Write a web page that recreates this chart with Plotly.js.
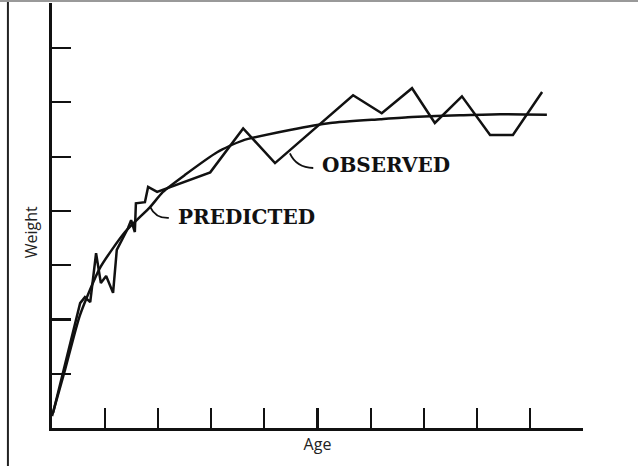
<!DOCTYPE html>
<html>
<head>
<meta charset="utf-8">
<script src="https://cdn.plot.ly/plotly-3.0.1.min.js"></script>
<style>html,body{margin:0;padding:0;background:#fff;}#chart{width:638px;height:466px;}</style>
</head>
<body>
<div id="chart"></div>
<script>
// Age (x) and Weight (y), in axis units (no numeric labels on the original)
const predictedAge    = [0, 0.245, 0.527, 0.904, 1.375, 1.846, 2.09, 2.50, 3.11, 3.60, 4.48, 5.24, 6.18, 6.78, 7.68, 8.44, 9.32];
const predictedWeight = [0.22, 1.07, 2.08, 2.95, 3.61, 4.07, 4.35, 4.66, 5.08, 5.30, 5.49, 5.62, 5.69, 5.73, 5.76, 5.78, 5.77];

const observedAge    = [0.02, 0.53, 0.62, 0.72, 0.83, 0.92, 1.02, 1.11, 1.15, 1.22, 1.43, 1.49, 1.56, 1.58, 1.75, 1.81, 1.98, 2.98, 3.60, 4.20, 5.67, 6.21, 6.78, 7.21, 7.72, 8.25, 8.68, 9.23];
const observedWeight = [0.28, 2.30, 2.41, 2.32, 3.22, 2.67, 2.80, 2.56, 2.49, 3.28, 3.68, 3.83, 3.61, 4.14, 4.16, 4.44, 4.35, 4.71, 5.52, 4.88, 6.13, 5.80, 6.26, 5.62, 6.11, 5.40, 5.40, 6.19];

const xTicks = [1, 2, 3, 4, 5, 6, 7, 8, 9, 10];
const yTicks = [1, 2, 3, 4, 5, 6, 7];

const labelFont = {family: 'DejaVu Serif, Liberation Serif, serif', size: 20, color: '#111', weight: 'bold'};
const axisTitleFont = {family: 'Open Sans, DejaVu Sans, sans-serif', size: 16, color: '#222'};

const traces = [
  {x: predictedAge, y: predictedWeight, mode: 'lines', name: 'PREDICTED',
   line: {color: '#111', width: 2.5, shape: 'spline', smoothing: 0.6}, hoverinfo: 'skip'},
  {x: observedAge, y: observedWeight, mode: 'lines', name: 'OBSERVED',
   line: {color: '#111', width: 2.5, shape: 'linear'}, hoverinfo: 'skip'}
];

const layout = {
  width: 638, height: 466,
  margin: {l: 52, r: 55, t: 3, b: 38, pad: 0},
  paper_bgcolor: '#fff', plot_bgcolor: '#fff',
  showlegend: false,
  xaxis: {
    range: [0, 10], tickvals: xTicks, showticklabels: false,
    ticks: 'inside', ticklen: 20, tickwidth: 2.2, tickcolor: '#111',
    showline: true, linecolor: '#111', linewidth: 2.6,
    showgrid: false, zeroline: false, fixedrange: true,
    title: {text: 'Age', font: axisTitleFont, standoff: 9}
  },
  yaxis: {
    range: [0, 7.83], tickvals: yTicks, showticklabels: false,
    ticks: 'inside', ticklen: 19, tickwidth: 2.2, tickcolor: '#111',
    showline: true, linecolor: '#111', linewidth: 2.6,
    showgrid: false, zeroline: false, fixedrange: true
  },
  annotations: [
    {x: -0.04, y: 0.46, xref: 'paper', yref: 'paper', text: 'Weight', showarrow: false,
     textangle: -90, xanchor: 'center', yanchor: 'middle', font: axisTitleFont},
    {x: 5.05, y: 4.85, xref: 'x', yref: 'y', text: 'OBSERVED', showarrow: false,
     xanchor: 'left', yanchor: 'middle', font: labelFont},
    {x: 2.34, y: 3.89, xref: 'x', yref: 'y', text: 'PREDICTED', showarrow: false,
     xanchor: 'left', yanchor: 'middle', font: labelFont}
  ],
  shapes: [
    {type: 'path', xref: 'x', yref: 'y', path: 'M 4.48,5.06 Q 4.60,4.80 4.92,4.79',
     line: {color: '#111', width: 1.8}},
    {type: 'path', xref: 'x', yref: 'y', path: 'M 1.85,4.07 Q 1.95,3.86 2.20,3.87',
     line: {color: '#111', width: 1.8}},
    {type: 'line', xref: 'paper', yref: 'paper', x0: -0.083, x1: -0.083, y0: -0.1, y1: 1.02,
     line: {color: '#222', width: 2}},
    {type: 'line', xref: 'paper', yref: 'paper', x0: -0.2, x1: 1.2, y0: 1.005, y1: 1.005,
     line: {color: '#999', width: 2}}
  ]
};

Plotly.newPlot('chart', traces, layout, {displayModeBar: false, staticPlot: true});
</script>
</body>
</html>
